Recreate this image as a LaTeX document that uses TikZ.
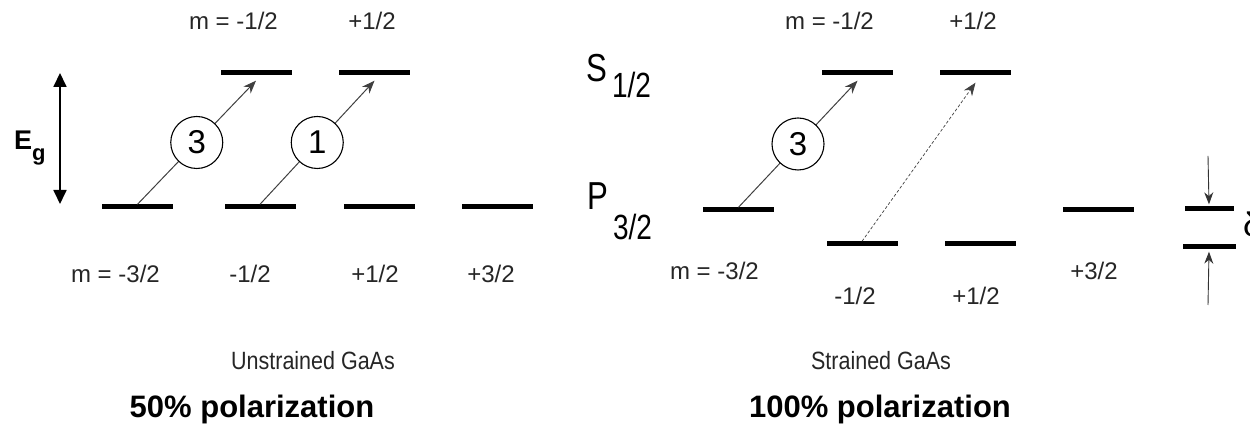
\documentclass[tikz,border=0pt]{standalone}
\usepackage{fontspec}
\setmainfont{Liberation Sans}
\newfontfamily\narrowfont[FakeStretch=0.8]{Liberation Sans}
\newfontfamily\condfont[FakeStretch=0.86]{Liberation Sans}
\usetikzlibrary{arrows.meta}

\begin{document}
\begin{tikzpicture}[x=1pt,y=1pt,line join=round,
  level/.style={fill=black,inner sep=0pt,minimum width=71pt,minimum height=5pt},
  trans/.style={draw=black!75,line width=1pt,-{Stealth[length=13pt,width=10pt]}},
  weak/.style={trans,dash pattern=on 3pt off 2pt,line width=0.7pt},
  ratio/.style={circle,draw=black,fill=white,line width=1.1pt,minimum size=52pt,inner sep=0pt,font=\fontsize{33}{36}\selectfont},
  mlab/.style={anchor=base,inner sep=0pt,text=black!85,font=\fontsize{24}{27}\selectfont},
  term/.style={anchor=base west,inner sep=0pt,font=\narrowfont\fontsize{39}{42}\selectfont},
  caption/.style={anchor=base,inner sep=0pt,text=black!85,font=\condfont\fontsize{25}{28}\selectfont},
  title/.style={anchor=base,inner sep=0pt,font=\bfseries\fontsize{31}{36}\selectfont},
  gap/.style={line width=0.9pt,draw=black!80,-{Stealth[length=12pt,width=9pt]}}]
\useasboundingbox (0,0) rectangle (1250,433);

% Unstrained GaAs: levels
\node[level] (ua) at (256,360) {};
\node[level] (ub) at (374.5,360) {};
\node[level] (u1) at (137.5,226) {};
\node[level] (u2) at (260,226) {};
\node[level] (u3) at (379,226) {};
\node[level] (u4) at (497,226) {};

% Band gap
\coordinate (egtop) at (60,360);
\coordinate (egbot) at (60,229);
\draw[line width=1.8pt,{Triangle[length=14pt,width=13pt]}-{Triangle[length=14pt,width=13pt]}] (egtop) -- (egbot);
\node[anchor=base west,inner sep=0pt,font=\bfseries\fontsize{27}{30}\selectfont] (eg) at (14,283)
  {E\raisebox{-11pt}{\fontsize{22}{24}\selectfont g}};

% Transitions
\draw[trans] (u1.north) -- node[ratio] (c3) {3} ([yshift=-5pt]ua.south);
\draw[trans] (u2.north) -- node[ratio] (c1) {1} ([yshift=-5pt]ub.south);

% m labels
\node[mlab,anchor=base east] (uma) at (278,403) {m = -1/2};
\node[mlab] (umb) at (372,403) {+1/2};
\node[mlab,anchor=base east] (um1) at (160,150) {m = -3/2};
\node[mlab] (um2) at (250,150) {-1/2};
\node[mlab] (um3) at (375,150) {+1/2};
\node[mlab] (um4) at (491,150) {+3/2};

% Strained GaAs: levels
\node[level] (sa) at (857.5,360) {};
\node[level] (sb) at (975.5,360) {};
\node[level] (s1) at (738.5,223) {};
\node[level] (s4) at (1098,223) {};
\node[level] (s2) at (862,189) {};
\node[level] (s3) at (980,189) {};

% Terms
\node[term] (sterm) at (586,351) {S\hspace{5pt}\raisebox{-16pt}{\fontsize{35}{38}\selectfont 1/2}};
\node[term] (pterm) at (587,223) {P\hspace{5pt}\raisebox{-30pt}{\fontsize{35}{38}\selectfont 3/2}};

% Transitions
\draw[trans] (s1.north) -- node[ratio] (c3s) {3} ([yshift=-5pt]sa.south);
\draw[weak] (s2.north) -- ([yshift=-7pt]sb.south);

% m labels
\node[mlab,anchor=base east] (sma) at (874,403) {m = -1/2};
\node[mlab] (smb) at (973,403) {+1/2};
\node[mlab,anchor=base east] (sm1) at (759,153) {m = -3/2};
\node[mlab] (sm4) at (1094,153) {+3/2};
\node[mlab] (sm2) at (855,128) {-1/2};
\node[mlab] (sm3) at (976,128) {+1/2};

% Splitting
\node[level,minimum width=49pt] (d1) at (1209,224) {};
\node[level,minimum width=53pt] (d2) at (1209,186) {};
\coordinate (dtop) at (1208,277);
\coordinate (dbot) at (1208,128);
\draw[gap] (dtop) -- ([yshift=2pt]d1.north);
\draw[gap] (dbot) -- ([yshift=-2pt]d2.south);
\node[anchor=base west,inner sep=0pt,font=\fontsize{34}{38}\selectfont] (delta) at (1243,196) {δ};

% Captions
\node[caption] (cap1) at (313,63) {Unstrained GaAs};
\node[caption] (cap2) at (881,63) {Strained GaAs};
\node[title] (pol1) at (252,15) {50\% polarization};
\node[title] (pol2) at (880,15) {100\% polarization};
\end{tikzpicture}
\end{document}
